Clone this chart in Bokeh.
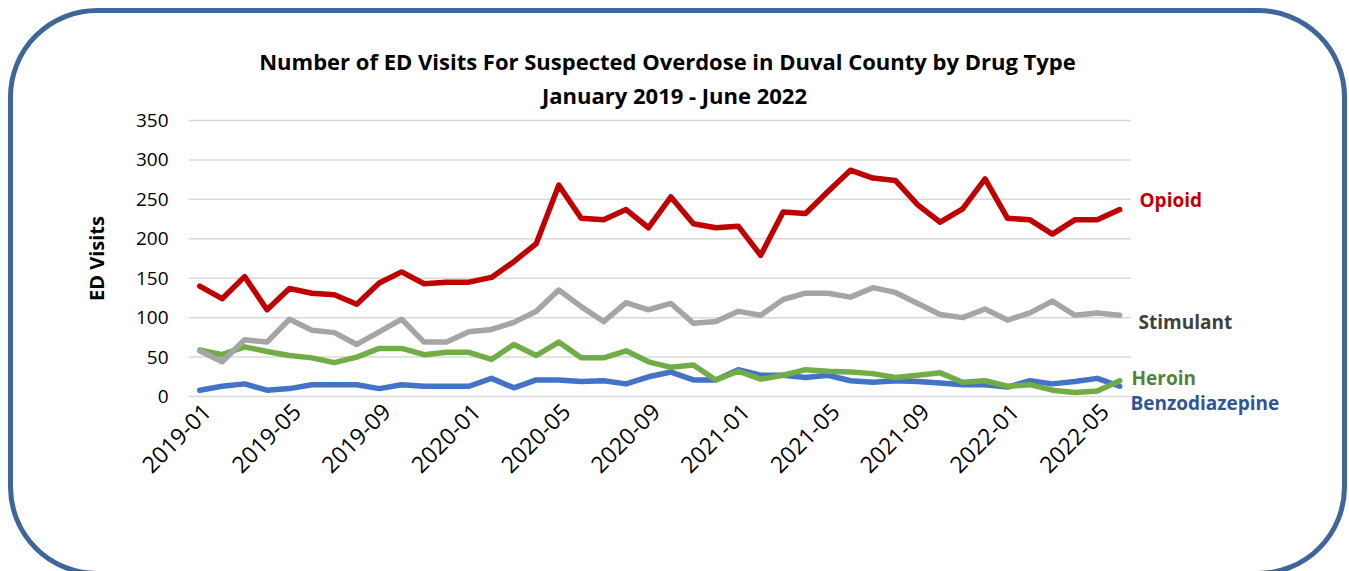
import math
from bokeh.plotting import figure
from bokeh.models import Range1d, LinearAxis, FixedTicker, Label
from bokeh.embed import file_html
from bokeh.resources import INLINE

# ---------------- data ----------------
months = ["2019-01", "2019-02", "2019-03", "2019-04", "2019-05", "2019-06",
          "2019-07", "2019-08", "2019-09", "2019-10", "2019-11", "2019-12",
          "2020-01", "2020-02", "2020-03", "2020-04", "2020-05", "2020-06",
          "2020-07", "2020-08", "2020-09", "2020-10", "2020-11", "2020-12",
          "2021-01", "2021-02", "2021-03", "2021-04", "2021-05", "2021-06",
          "2021-07", "2021-08", "2021-09", "2021-10", "2021-11", "2021-12",
          "2022-01", "2022-02", "2022-03", "2022-04", "2022-05", "2022-06"]

opioid = [140, 124, 152, 110, 137, 131, 129, 117, 144, 158, 143, 145,
          145, 151, 171, 194, 268, 226, 224, 237, 214, 253, 219, 214,
          216, 179, 234, 232, 260, 287, 277, 274, 243, 221, 238, 276,
          226, 224, 206, 224, 224, 237]
stimulant = [58, 44, 72, 69, 98, 84, 81, 66, 82, 98, 69, 69,
             82, 85, 94, 108, 135, 114, 95, 119, 110, 118, 93, 95,
             108, 103, 123, 131, 131, 126, 138, 132, 118, 104, 100, 111,
             97, 106, 121, 103, 106, 103]
heroin = [59, 53, 63, 57, 52, 49, 43, 50, 61, 61, 53, 56,
          56, 47, 66, 52, 69, 49, 49, 58, 44, 37, 40, 21,
          32, 22, 27, 34, 32, 31, 29, 24, 27, 30, 18, 20,
          13, 15, 8, 5, 7, 20]
benzo = [8, 13, 16, 8, 10, 15, 15, 15, 10, 15, 13, 13,
         13, 23, 11, 21, 21, 19, 20, 16, 25, 31, 21, 21,
         34, 27, 27, 24, 27, 20, 18, 20, 19, 17, 15, 15,
         12, 20, 16, 19, 23, 13]

y_ticks = [0, 50, 100, 150, 200, 250, 300, 350]
x_tick_step = 4
title_lines = ["Number of ED Visits For Suspected Overdose in Duval County by Drug Type",
               "January 2019 - June 2022"]
y_label = "ED Visits"

FONT = "Open Sans"

# ---------------- geometry (page px) ----------------
OFF = 13                 # canvas origin on the page
CW, CH = 1329, 558       # canvas size
FL_PAGE = 188            # frame left
FT_PAGE, FB_PAGE = 40, 476   # frame top / bottom (centre 258 = y-label centre)
ZERO_PAGE = 396          # where y = 0 sits
PX_PER_MONTH = 22.439
PX_PER_UNIT = 276 / 350.0

ml = FL_PAGE - OFF
mt = FT_PAGE - OFF
mb = CH - (FB_PAGE - OFF)
x_start = -0.5
x_end = x_start + (CW - ml) / PX_PER_MONTH
y_start = -(FB_PAGE - ZERO_PAGE) / PX_PER_UNIT
y_end = (ZERO_PAGE - FT_PAGE) / PX_PER_UNIT

xs = list(range(len(months)))
p = figure(width=CW, height=CH, output_backend="svg", toolbar_location=None,
           x_range=Range1d(x_start, x_end), y_range=Range1d(y_start, y_end),
           x_axis_location=None,
           min_border_left=ml, min_border_right=0,
           min_border_top=mt, min_border_bottom=mb)
p.outline_line_color = None
p.background_fill_color = None
p.border_fill_color = None
p.styles = {"margin-left": f"{OFF}px", "margin-top": f"{OFF}px",
            "border-radius": "84px",
            "outline": "5px solid #3E6699", "outline-offset": "0px"}

# shifted range for the category labels
shift = 0.32
p.extra_x_ranges = {"lab": Range1d(x_start - shift, x_end - shift)}
tick_idx = list(range(0, len(months), x_tick_step))
xaxis = LinearAxis(x_range_name="lab",
                   ticker=FixedTicker(ticks=tick_idx),
                   major_label_overrides={i: months[i] for i in tick_idx},
                   major_label_orientation=math.pi / 4)
xaxis.axis_line_color = None
xaxis.major_tick_line_color = None
xaxis.minor_tick_line_color = None
xaxis.major_tick_out = 0
xaxis.major_tick_in = 0
xaxis.major_label_standoff = (ZERO_PAGE + 11) - FB_PAGE
xaxis.major_label_text_font = FONT
xaxis.major_label_text_font_size = "23px"
xaxis.major_label_text_color = "#000000"
p.add_layout(xaxis, "below")

yaxis = p.yaxis[0]
yaxis.ticker = FixedTicker(ticks=y_ticks)
yaxis.axis_line_color = None
yaxis.major_tick_line_color = None
yaxis.minor_tick_line_color = None
yaxis.major_tick_out = 0
yaxis.major_label_standoff = 20
yaxis.major_label_text_font = FONT
yaxis.major_label_text_font_size = "19px"
yaxis.major_label_text_color = "#000000"
yaxis.axis_label = y_label
yaxis.axis_label_text_font = FONT
yaxis.axis_label_text_font_style = "bold"
yaxis.axis_label_text_font_size = "20px"
yaxis.axis_label_text_color = "#000000"
yaxis.axis_label_standoff = 23

p.ygrid.visible = False
p.xgrid.visible = False

# horizontal gridlines at the y ticks, spanning only the data categories
p.segment(x0=[x_start] * len(y_ticks), x1=[len(months) - 0.5] * len(y_ticks),
          y0=y_ticks, y1=y_ticks, line_color="#D9D9D9", line_width=1.5)

# ---------------- series ----------------
series = [(benzo, "#4472C4"), (heroin, "#70AD47"), (stimulant, "#A5A5A5"), (opioid, "#C00000")]
for vals, col in series:
    p.line(xs, vals, line_color=col, line_width=5.5, line_join="round", line_cap="round")

# ---------------- annotations (screen units relative to the frame) ----------------
def sx(page_x):
    return page_x - FL_PAGE

def sy(page_y):
    return FB_PAGE - page_y

for txt, cx, cy in zip(title_lines, [667, 674], [60.5, 94.5]):
    p.add_layout(Label(x=sx(cx), y=sy(cy), x_units="screen", y_units="screen",
                       text=txt, text_align="center", text_baseline="middle",
                       text_font=FONT, text_font_style="bold", text_font_size="22px",
                       text_color="#000000"))

end_labels = [("Opioid", "#C00000", 1139, 199),
              ("Stimulant", "#404040", 1138, 321),
              ("Heroin", "#548235", 1131, 377),
              ("Benzodiazepine", "#2F5597", 1130, 402)]
for txt, col, lx, ly in end_labels:
    p.add_layout(Label(x=sx(lx), y=sy(ly), x_units="screen", y_units="screen",
                       text=txt, text_align="left", text_baseline="middle",
                       text_font=FONT, text_font_style="bold", text_font_size="19px",
                       text_color=col))

open("out.html", "w").write(file_html(p, INLINE))
